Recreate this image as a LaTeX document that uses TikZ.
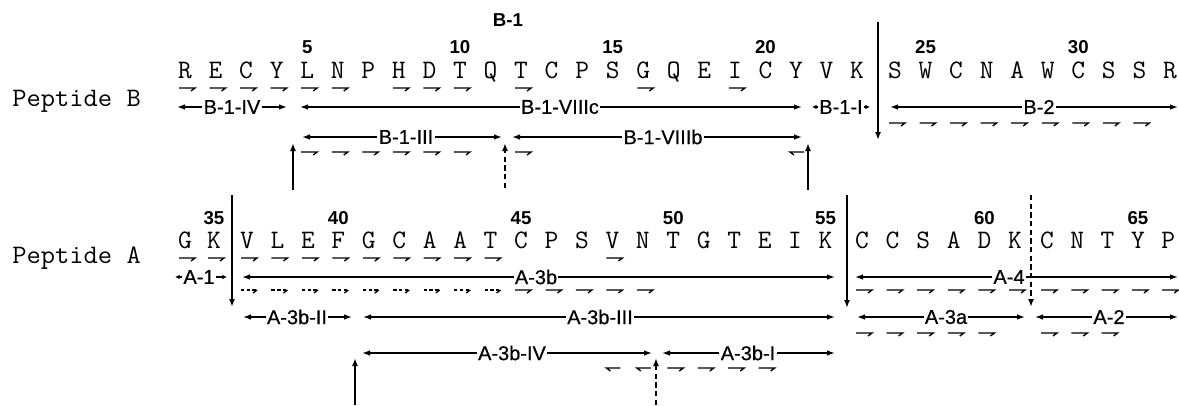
\documentclass[tikz,border=0pt]{standalone}
\usepackage{fontspec}
\usepackage{graphicx}
\newfontfamily\lblfont{Liberation Sans}
\usetikzlibrary{arrows.meta}
\tikzset{
  res/.style={font=\fontsize{20}{20}\selectfont\ttfamily\addfontfeature{FakeBold=0.8}, inner sep=0pt, anchor=base},
  pep/.style={font=\fontsize{20}{20}\selectfont\ttfamily\addfontfeature{FakeBold=0.8}, inner sep=0pt, anchor=base west},
  num/.style={font=\fontsize{14}{14}\selectfont\lblfont\bfseries, inner sep=0pt, anchor=base},
  lbl/.style={font=\fontsize{15}{15}\selectfont\lblfont\addfontfeature{FakeBold=0.5}, fill=white, inner sep=1pt},
  rng/.style={line width=1pt, {Latex[length=6pt,width=4.2pt]}-{Latex[length=6pt,width=4.2pt]}},
  srng/.style={line width=1pt, {Latex[length=3.5pt,width=3.5pt]}-{Latex[length=3.5pt,width=3.5pt]}},
  sepline/.style={line width=1.2pt, -{Latex[length=6pt,width=4.5pt]}},
  dsep/.style={sepline, dash pattern=on 4pt off 2.5pt},
  harp/.style={line width=1pt},
  harpr/.pic={\draw[harp] (-6,0) -- (10,0) -- (6,3);},
  harpl/.pic={\draw[harp] (8,0) -- (-6,0) -- (-2,3);},
  harpd/.pic={\draw[harp, dash pattern=on 2.5pt off 1.8pt] (-6,0) -- (10,0); \draw[harp] (10,0) -- (6,3);},
}
\newcommand\rangeline[6][rng]{\draw[#1] (#2,#4) -- (#3,#4); \node[lbl] at (#5,#4) {#6};}
\begin{document}
\begin{tikzpicture}[x=0.75pt,y=-0.75pt]
\useasboundingbox (0,0) rectangle (1179,405);

% ---------- Peptide B ----------
\node[pep] (pepB) at (12,106) {\scalebox{1.04}[1]{Peptide B}};
\node[num] (b1lab) at (508,26) {B-1};
\foreach \l [count=\i] in {R,E,C,Y,L,N,P,H,D,T,Q,T,C,P,S,G,Q,E,I,C,Y,V,K}{
  \pgfmathsetmacro\xx{185+(\i-1)*30.55}
  \node[res] (b\i) at (\xx,78) {\l};
}
\foreach \l [count=\j] in {S,W,C,N,A,W,C,S,S,R}{
  \pgfmathtruncatemacro\i{\j+23}
  \pgfmathsetmacro\xx{895+(\j-1)*30.55}
  \node[res] (b\i) at (\xx,78) {\l};
}
\foreach \i in {5,10,15,20,25,30}{
  \node[num] (nb\i) at (b\i |- 0,53) {\i};
}
\foreach \i in {1,2,3,4,5,6,8,9,10,12,16,19}{
  \pic at (b\i |- 0,88) {harpr};
}
\rangeline{177}{287}{107}{232}{B-1-IV}
\rangeline{300}{802}{107}{560}{B-1-VIIIc}
\rangeline[srng]{812}{870}{107}{841}{B-1-I}
\rangeline{890}{1178}{107}{1039}{B-2}
\foreach \i in {24,...,32}{
  \pic at (b\i |- 0,123) {harpr};
}
\rangeline{302}{502}{137}{406}{B-1-III}
\rangeline{512}{802}{137}{663}{B-1-VIIIb}
\foreach \i in {5,...,10,12,...,18}{
  \pic at (b\i |- 0,152) {harpr};
}
\pic at (b21 |- 0,152) {harpl};
\coordinate (sB1) at (878,22);
\coordinate (sB2) at (878,140);
\draw[sepline] (sB1) -- (sB2);
\coordinate (uB1a) at (293,190); \coordinate (uB1b) at (293,143);
\coordinate (uB2a) at (505,188); \coordinate (uB2b) at (505,143);
\coordinate (uB3a) at (808,190); \coordinate (uB3b) at (808,143);
\draw[sepline] (uB1a) -- (uB1b);
\draw[dsep] (uB2a) -- (uB2b);
\draw[sepline] (uB3a) -- (uB3b);

% ---------- Peptide A ----------
\node[pep] (pepA) at (12,263) {\scalebox{1.04}[1]{Peptide A}};
\node[res] (a34) at (185,248) {G};
\node[res] (a35) at (214,248) {K};
\foreach \l [count=\j] in {V,L,E,F,G,C,A,A,T,C,P,S,V,N,T,G,T,E,I,K}{
  \pgfmathtruncatemacro\i{\j+35}
  \pgfmathsetmacro\xx{247+(\j-1)*30.45}
  \node[res] (a\i) at (\xx,248) {\l};
}
\foreach \l [count=\j] in {C,C,S,A,D,K}{
  \pgfmathtruncatemacro\i{\j+55}
  \pgfmathsetmacro\xx{862+(\j-1)*30.6}
  \node[res] (a\i) at (\xx,248) {\l};
}
\foreach \l [count=\j] in {C,N,T,Y,P}{
  \pgfmathtruncatemacro\i{\j+61}
  \pgfmathsetmacro\xx{1047+(\j-1)*30.3}
  \node[res] (a\i) at (\xx,248) {\l};
}
\foreach \i in {35,45,50,55,60,65}{
  \node[num] (na\i) at (a\i |- 0,224) {\i};
}
\node[num] (na40) at (a39 |- 0,224) {40};
\foreach \i in {34,...,44,48}{
  \pic at (a\i |- 0,258) {harpr};
}
\rangeline[srng]{175}{227}{277}{199}{A-1}
\rangeline{242}{835}{277}{536}{A-3b}
\rangeline{855}{1178}{277}{1009}{A-4}
\foreach \i in {36,...,44}{
  \pic at (a\i |- 0,290) {harpd};
}
\foreach \i in {45,...,49,56,57,...,66}{
  \pic at (a\i |- 0,290) {harpr};
}
\rangeline{243}{352}{317}{297}{A-3b-II}
\rangeline{363}{835}{317}{600}{A-3b-III}
\rangeline{857}{1025}{317}{946}{A-3a}
\rangeline{1035}{1178}{317}{1109}{A-2}
\foreach \i in {56,...,60,62,63,64}{
  \pic at (a\i |- 0,333) {harpr};
}
\rangeline{362}{652}{353}{512}{A-3b-IV}
\rangeline{662}{835}{353}{748}{A-3b-I}
\pic at (a48 |- 0,368) {harpl};
\pic at (a49 |- 0,368) {harpl};
\foreach \i in {50,...,53}{
  \pic at (a\i |- 0,368) {harpr};
}
\coordinate (sA1a) at (232,195); \coordinate (sA1b) at (232,307);
\coordinate (sA2a) at (847,195); \coordinate (sA2b) at (847,308);
\coordinate (sA3a) at (1031,195); \coordinate (sA3b) at (1031,307);
\draw[sepline] (sA1a) -- (sA1b);
\draw[sepline] (sA2a) -- (sA2b);
\draw[dsep] (sA3a) -- (sA3b);
\coordinate (uA1a) at (355,405); \coordinate (uA1b) at (355,358);
\coordinate (uA2a) at (656,405); \coordinate (uA2b) at (656,358);
\draw[sepline] (uA1a) -- (uA1b);
\draw[dsep] (uA2a) -- (uA2b);
\end{tikzpicture}
\end{document}
